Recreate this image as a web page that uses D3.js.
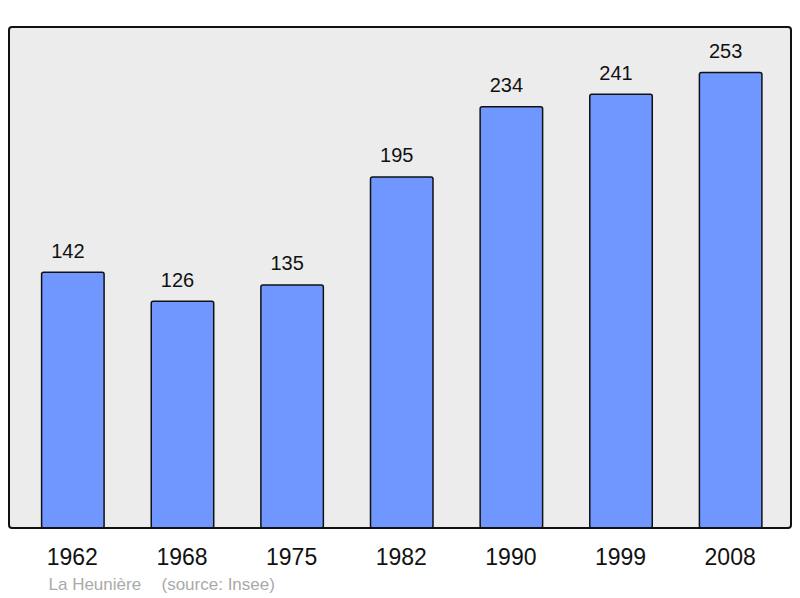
<!DOCTYPE html>
<html>
<head>
<meta charset="utf-8">
<script src="https://cdn.jsdelivr.net/npm/d3@7"></script>
<style>
  html, body { margin: 0; padding: 0; background: #fff; }
  svg { display: block; font-family: "Liberation Sans", Arial, sans-serif; }
</style>
</head>
<body>
<svg id="chart" width="800" height="598"></svg>
<script>
const years = ["1962", "1968", "1975", "1982", "1990", "1999", "2008"];
const population = [142, 126, 135, 195, 234, 241, 253];
const commune = "La Heunière";
const source = "(source: Insee)";

const svg = d3.select("#chart");
const frame = { left: 9, top: 27, right: 791, bottom: 528 };

const x = d3.scaleBand()
  .domain(years)
  .range([12, 791.5])
  .paddingInner(0.43)
  .paddingOuter(0.27);

const y = d3.scaleLinear()
  .domain([0, 278.3])
  .range([frame.bottom, frame.top]);

svg.append("rect")
  .attr("x", frame.left).attr("y", frame.top)
  .attr("width", frame.right - frame.left)
  .attr("height", frame.bottom - frame.top)
  .attr("rx", 3)
  .attr("fill", "#ececec");

const data = years.map((yr, i) => ({ year: yr, value: population[i] }));

svg.append("g").selectAll("rect")
  .data(data)
  .join("rect")
  .attr("x", d => x(d.year))
  .attr("y", d => y(d.value))
  .attr("width", x.bandwidth())
  .attr("height", d => y(0) - y(d.value))
  .attr("rx", 2)
  .attr("fill", "#7097ff")
  .attr("stroke", "#111")
  .attr("stroke-width", 1.5);

svg.append("g").selectAll("text")
  .data(data)
  .join("text")
  .attr("x", d => x(d.year) + x.bandwidth() / 2 - 5)
  .attr("y", d => y(d.value) - 14.5)
  .attr("text-anchor", "middle")
  .attr("font-size", 20)
  .attr("fill", "#111")
  .text(d => d.value);

svg.append("rect")
  .attr("x", frame.left).attr("y", frame.top)
  .attr("width", frame.right - frame.left)
  .attr("height", frame.bottom - frame.top)
  .attr("rx", 3)
  .attr("fill", "none")
  .attr("stroke", "#111")
  .attr("stroke-width", 2);

svg.append("g").selectAll("text")
  .data(years)
  .join("text")
  .attr("x", d => x(d) + x.bandwidth() / 2 - 0.5)
  .attr("y", 565)
  .attr("text-anchor", "middle")
  .attr("font-size", 23)
  .attr("fill", "#111")
  .text(d => d);

svg.append("text")
  .attr("x", 48.5).attr("y", 590)
  .attr("font-size", 17)
  .attr("fill", "#aaa")
  .text(commune);

svg.append("text")
  .attr("x", 161.5).attr("y", 590)
  .attr("font-size", 17)
  .attr("fill", "#aaa")
  .text(source);
</script>
</body>
</html>
